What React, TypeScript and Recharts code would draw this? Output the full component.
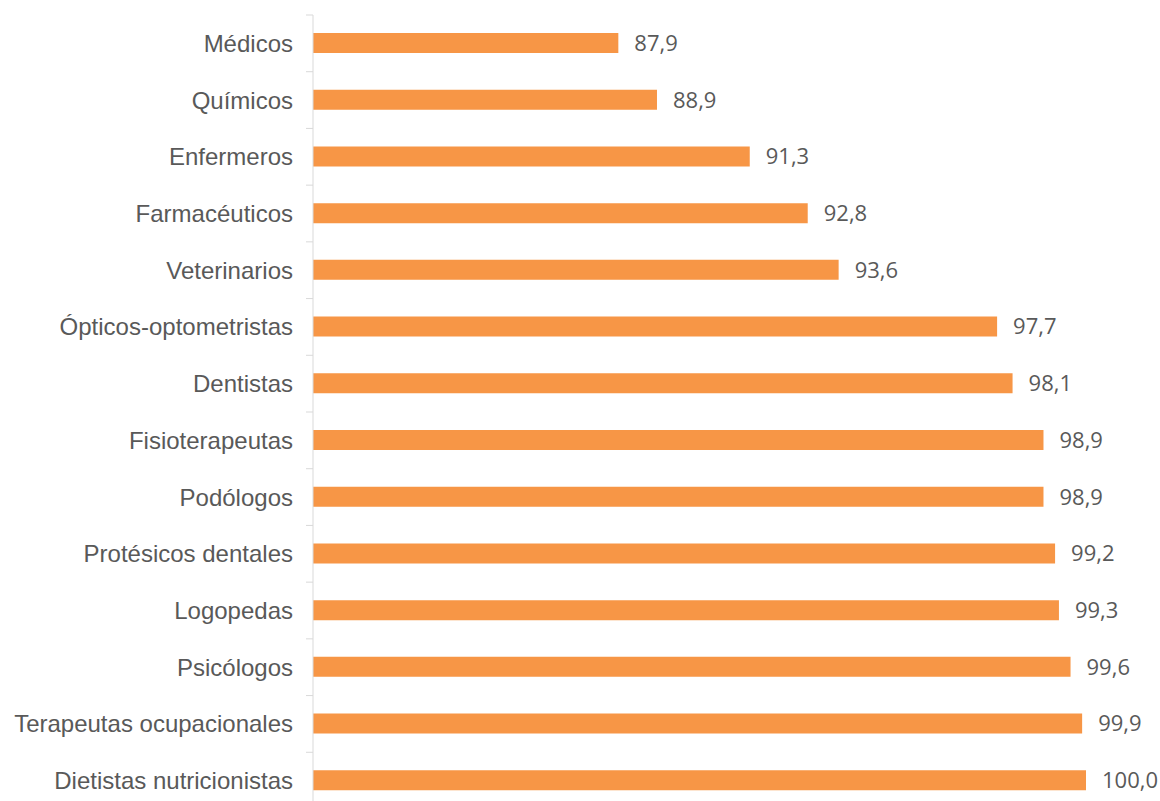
import { BarChart, Bar, XAxis, YAxis, LabelList } from 'recharts';

const categories = [
  'Médicos',
  'Químicos',
  'Enfermeros',
  'Farmacéuticos',
  'Veterinarios',
  'Ópticos-optometristas',
  'Dentistas',
  'Fisioterapeutas',
  'Podólogos',
  'Protésicos dentales',
  'Logopedas',
  'Psicólogos',
  'Terapeutas ocupacionales',
  'Dietistas nutricionistas',
];

const values = [87.9, 88.9, 91.3, 92.8, 93.6, 97.7, 98.1, 98.9, 98.9, 99.2, 99.3, 99.6, 99.9, 100.0];

const data = categories.map((name, i) => ({ name, value: values[i] }));

const CHART_W = 1160;
const CHART_H = 820;
const MARGIN = { top: 15, right: 74, bottom: 11, left: 0 };
const BAND = (CHART_H - MARGIN.top - MARGIN.bottom) / categories.length;
const AXIS_COLOR = '#d9d9d9';

function CategoryTick(props: any) {
  const { x, y, payload, index } = props;
  return (
    <g>
      <text
        x={x - 20}
        y={y}
        dy="0.355em"
        textAnchor="end"
        fontFamily="'Liberation Sans', Arial, sans-serif"
        fontSize={24}
        fill="#595959"
      >
        {payload.value}
      </text>
      {index === 0 && (
        <line x1={x - 7} x2={x} y1={y - BAND / 2} y2={y - BAND / 2} stroke={AXIS_COLOR} />
      )}
      <line x1={x - 7} x2={x} y1={y + BAND / 2} y2={y + BAND / 2} stroke={AXIS_COLOR} />
    </g>
  );
}

const fmt = (v: any) => Number(v).toFixed(1).replace('.', ',');

export default function App() {
  return (
    <div
      style={{
        position: 'absolute',
        top: 0,
        left: 0,
        width: CHART_W,
        height: 801,
        overflow: 'hidden',
        background: '#fff',
      }}
    >
      <BarChart width={CHART_W} height={CHART_H} data={data} layout="vertical" margin={MARGIN}>
        <XAxis type="number" domain={[80, 100]} hide allowDataOverflow />
        <YAxis
          type="category"
          dataKey="name"
          width={313}
          axisLine={{ stroke: AXIS_COLOR }}
          tickLine={false}
          tickSize={0}
          tickMargin={0}
          interval={0}
          tick={<CategoryTick />}
        />
        <Bar dataKey="value" fill="#F79646" barSize={20} isAnimationActive={false}>
          <LabelList
            dataKey="value"
            position="right"
            offset={16}
            formatter={fmt}
            fontFamily="'Open Sans', sans-serif"
            fontSize={22}
            fill="#595959"
          />
        </Bar>
      </BarChart>
    </div>
  );
}
